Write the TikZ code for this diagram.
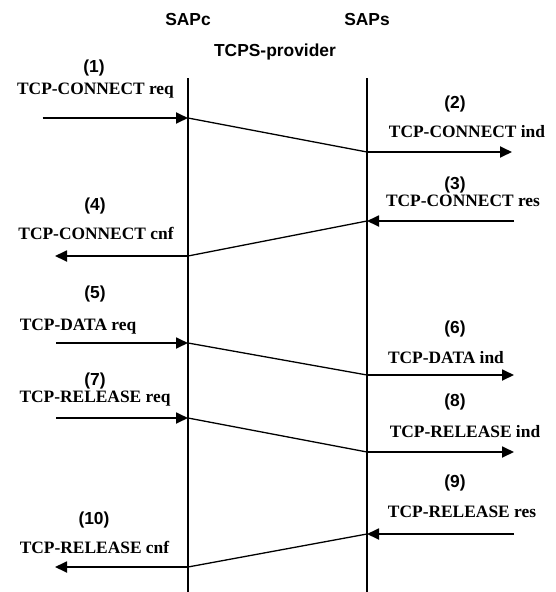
\documentclass[tikz,border=0pt]{standalone}
\usepackage{fontspec}
\setmainfont{Liberation Serif}
\setsansfont{Liberation Sans}
\usetikzlibrary{arrows.meta}

\begin{document}
\begin{tikzpicture}[
    x=1pt, y=-1pt,
    >={Triangle[length=12pt, width=11pt]},
    sapname/.style={font=\fontsize{17.4}{20}\selectfont\sffamily\bfseries, anchor=base, inner sep=0pt},
    msgnum/.style={font=\fontsize{17.4}{20}\selectfont\sffamily\bfseries, anchor=base, inner sep=0pt},
    prim/.style={font=\fontsize{17.4}{20}\selectfont\rmfamily\bfseries, anchor=base, inner sep=0pt},
    lifeline/.style={line width=1.3pt},
    msg/.style={->, line width=1.8pt},
    hop/.style={line width=1.3pt},
]

\useasboundingbox (0,0) rectangle (555,592);

% service access points
\node[sapname] (sapc) at (188, 25.5) {SAPc};
\node[sapname] (saps) at (367, 25.5) {SAPs};
\node[sapname] (provider) at (275, 56) {TCPS-provider};

\coordinate (sapc_top) at (188, 78);
\coordinate (sapc_bot) at (188, 592);
\coordinate (saps_top) at (367, 78);
\coordinate (saps_bot) at (367, 592);

\draw[lifeline] (sapc_top) -- (sapc_bot);
\draw[lifeline] (saps_top) -- (saps_bot);

% message labels
\node[msgnum] (n1) at (94, 72) {(1)};
\node[prim] (p1) at (95.5, 94) {TCP-CONNECT req};
\node[msgnum] (n2) at (455, 108.5) {(2)};
\node[prim] (p2) at (467, 137.5) {TCP-CONNECT ind};
\node[msgnum] (n3) at (455, 189) {(3)};
\node[prim] (p3) at (463, 206) {TCP-CONNECT res};
\node[msgnum] (n4) at (95, 210) {(4)};
\node[prim] (p4) at (96, 239.5) {TCP-CONNECT cnf};
\node[msgnum] (n5) at (95, 298) {(5)};
\node[prim] (p5) at (78, 330) {TCP-DATA req};
\node[msgnum] (n6) at (455, 333.5) {(6)};
\node[prim] (p6) at (446, 363.5) {TCP-DATA ind};
\node[msgnum] (n7) at (95, 385.5) {(7)};
\node[prim] (p7) at (95, 402.5) {TCP-RELEASE req};
\node[msgnum] (n8) at (455, 406) {(8)};
\node[prim] (p8) at (465, 437) {TCP-RELEASE ind};
\node[msgnum] (n9) at (455, 487) {(9)};
\node[prim] (p9) at (462, 517.5) {TCP-RELEASE res};
\node[msgnum] (n10) at (94, 524) {(10)};
\node[prim] (p10) at (94.5, 553) {TCP-RELEASE cnf};

% points on the lines
\coordinate (u1) at (42.5, 118);
\coordinate (c1) at (188, 118);
\coordinate (s2) at (367, 152);
\coordinate (u2) at (512, 152);
\coordinate (u3) at (514, 221);
\coordinate (s3) at (367, 221);
\coordinate (c4) at (188, 256);
\coordinate (u4) at (55, 256);
\coordinate (u5) at (56, 343);
\coordinate (c5) at (188, 343);
\coordinate (s6) at (367, 375);
\coordinate (u6) at (514, 375);
\coordinate (u7) at (56, 418);
\coordinate (c7) at (188, 418);
\coordinate (s8) at (367, 452);
\coordinate (u8) at (514, 452);
\coordinate (u9) at (514, 534);
\coordinate (s9) at (367, 534);
\coordinate (c10) at (188, 567);
\coordinate (u10) at (55, 567);

% connect
\draw[msg] (u1) -- (c1);
\draw[hop] (c1) -- (s2);
\draw[msg] (s2) -- (u2);

\draw[msg] (u3) -- (s3);
\draw[hop] (s3) -- (c4);
\draw[msg] (c4) -- (u4);

% data
\draw[msg] (u5) -- (c5);
\draw[hop] (c5) -- (s6);
\draw[msg] (s6) -- (u6);

% release
\draw[msg] (u7) -- (c7);
\draw[hop] (c7) -- (s8);
\draw[msg] (s8) -- (u8);

\draw[msg] (u9) -- (s9);
\draw[hop] (s9) -- (c10);
\draw[msg] (c10) -- (u10);

\end{tikzpicture}
\end{document}
